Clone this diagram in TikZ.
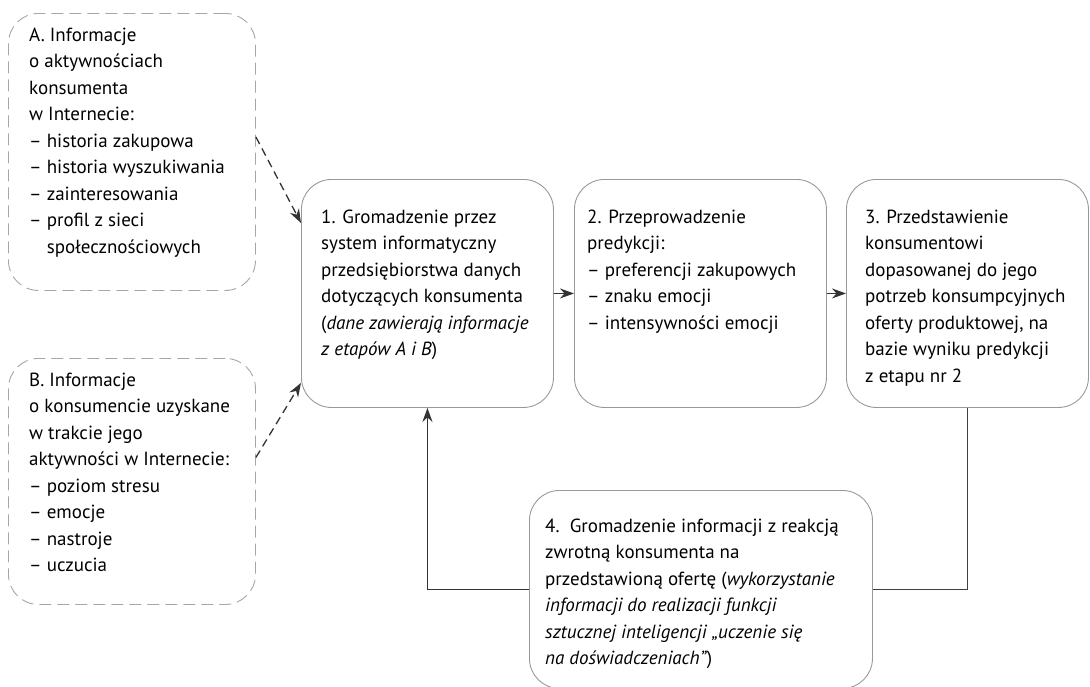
\documentclass[tikz,border=0pt]{standalone}
\usepackage{fontspec}
\setmainfont{PT Sans}
\usepackage{tikz}
\usetikzlibrary{
	arrows.meta,
	positioning
}

\tikzset{
	etap/.style={draw=black!40, line width=0.9pt, rounded corners=30pt, anchor=north west, inner sep=0pt},
	zrodlo/.style={draw=black!35, line width=0.9pt, dash pattern=on 12pt off 6pt, rounded corners=30pt, anchor=north west, inner sep=0pt},
	opis/.style={align=left, inner sep=0pt, text=black, font=\fontsize{19}{26.5}\selectfont, execute at begin node=\strut},
	przeplyw/.style={draw=black!80, line width=1.3pt, -{Stealth[length=14pt,width=10pt]}},
	wplyw/.style={przeplyw, dash pattern=on 8pt off 5pt},
	linia/.style={draw=black!75, line width=1.3pt}
}

\begin{document}
\begin{tikzpicture}[x=1pt, y=-1pt]
	\useasboundingbox (0,0) rectangle (1090,686);
	% zrodla informacji
	\node[zrodlo, minimum width=247pt, minimum height=277pt] (a) at (8,13) {};
	\node[zrodlo, minimum width=247pt, minimum height=246pt] (b) at (8,358) {};
	% etapy
	\node[etap, minimum width=252pt, minimum height=228pt] (s1) at (301,179) {};
	\node[etap, minimum width=252pt, minimum height=228pt] (s2) at (574,179) {};
	\node[etap, minimum width=242pt, minimum height=228pt] (s3) at (846,179) {};
	\node[etap, minimum width=343pt, minimum height=198pt] (s4) at (529,490) {};
	% teksty
	\node[opis, below right=14.5pt and 21pt of a.north west] (a-txt) {A. Informacje\\ o aktywnościach\\ konsumenta\\ w Internecie:\\ – historia zakupowa\\ – historia wyszukiwania\\ – zainteresowania\\ – profil z sieci\\ \phantom{– }społecznościowych};
	\node[opis, below right=14.5pt and 21pt of b.north west] (b-txt) {B. Informacje\\ o konsumencie uzyskane\\ w trakcie jego\\ aktywności w Internecie:\\ – poziom stresu\\ – emocje\\ – nastroje\\ – uczucia};
	\node[opis, below right=30.5pt and 20pt of s1.north west] (s1-txt) {1. Gromadzenie przez\\ system informatyczny\\ przedsiębiorstwa danych\\ dotyczących konsumenta\\ (\textit{dane zawierają informacje}\\ \textit{z etapów A i B})};
	\node[opis, below right=30.5pt and 13pt of s2.north west] (s2-txt) {2. Przeprowadzenie\\ predykcji:\\ – preferencji zakupowych\\ – znaku emocji\\ – intensywności emocji};
	\node[opis, below right=30.5pt and 19pt of s3.north west] (s3-txt) {3. Przedstawienie\\ konsumentowi\\ dopasowanej do jego\\ potrzeb konsumpcyjnych\\ oferty produktowej, na\\ bazie wyniku predykcji\\ z etapu nr 2};
	\node[opis, below right=28.5pt and 16pt of s4.north west] (s4-txt) {4.\ \ Gromadzenie informacji z reakcją\\ zwrotną konsumenta na\\ przedstawioną ofertę (\textit{wykorzystanie}\\ \textit{informacji do realizacji funkcji}\\ \textit{sztucznej inteligencji „uczenie się}\\ \textit{na doświadczeniach”})};
	% polaczenia
	\draw[wplyw] ([yshift=15pt]a.east) -- ([yshift=-44pt]s1.north west);
	\draw[wplyw] ([yshift=24pt]b.east) -- ([yshift=25pt]s1.south west);
	\draw[przeplyw] (s1.east) -- (s2.west);
	\draw[przeplyw] (s2.east) -- (s3.west);
	\draw[linia] (s3.south) |- (s4.east);
	\draw[przeplyw] (s4.west) -| (s1.south);
\end{tikzpicture}
\end{document}
